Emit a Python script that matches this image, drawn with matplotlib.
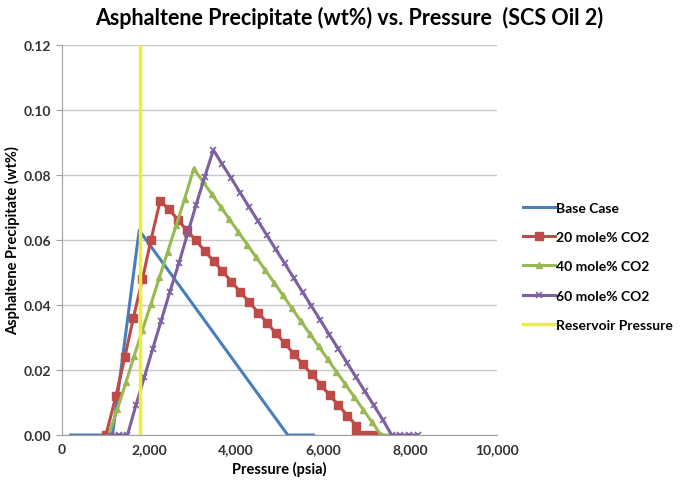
import matplotlib
matplotlib.use('Agg')
import matplotlib.pyplot as plt

plt.rcParams['font.family'] = ['Lato', 'DejaVu Sans']
plt.rcParams['font.weight'] = 'bold'

# Data (pressure in psia, precipitate in wt%)
base_p = [200, 1160, 1775, 5190, 5780]
base_wt = [0.0, 0.0, 0.063, 0.0, 0.0]

co2_20_p = [1010, 1240, 1445, 1640, 1850, 2045, 2255, 2460, 2665, 2870, 3075,
            3280, 3485, 3690, 3895, 4100, 4305, 4510, 4715, 4920, 5125, 5330,
            5535, 5740, 5945, 6150, 6355, 6560, 6765, 6770, 6975, 7180]
co2_20_wt = [0.0, 0.012, 0.024, 0.036, 0.048, 0.060, 0.072, 0.0695, 0.0662,
             0.0630, 0.0599, 0.0567, 0.0535, 0.0504, 0.0472, 0.0440, 0.0409,
             0.0377, 0.0345, 0.0313, 0.0282, 0.0250, 0.0218, 0.0187, 0.0155,
             0.0123, 0.0092, 0.0060, 0.0029, 0.0, 0.0, 0.0]

co2_40_p = [1070, 1275, 1470, 1660, 1850, 2045, 2240, 2430, 2625, 2820, 3030,
            3235, 3440, 3645, 3850, 4055, 4260, 4465, 4670, 4875, 5080, 5285,
            5490, 5695, 5900, 6105, 6310, 6515, 6720, 6925, 7130, 7335, 7540]
co2_40_wt = [0.0, 0.008, 0.0162, 0.0244, 0.0323, 0.0403, 0.0485, 0.0564,
             0.0645, 0.0727, 0.082, 0.0781, 0.0742, 0.0703, 0.0664, 0.0625,
             0.0586, 0.0547, 0.0508, 0.0469, 0.0430, 0.0390, 0.0351, 0.0312,
             0.0273, 0.0234, 0.0195, 0.0156, 0.0117, 0.0078, 0.0039, 0.0, 0.0]

co2_60_p = [1100, 1300, 1505, 1700, 1895, 2085, 2280, 2480, 2690, 2885, 3080,
            3280, 3480, 3685, 3890, 4095, 4300, 4505, 4710, 4915, 5120, 5325,
            5530, 5735, 5940, 6145, 6350, 6555, 6760, 6965, 7170, 7375, 7580,
            7780, 7980, 8180]
co2_60_wt = [0.0, 0.0, 0.0, 0.0092, 0.0179, 0.0265, 0.0352, 0.0441, 0.053,
             0.0619, 0.0707, 0.0794, 0.0877, 0.0833, 0.0790, 0.0746, 0.0702,
             0.0659, 0.0615, 0.0571, 0.0528, 0.0484, 0.0440, 0.0397, 0.0353,
             0.0309, 0.0266, 0.0222, 0.0178, 0.0134, 0.0091, 0.0047, 0.0,
             0.0, 0.0, 0.0]

reservoir_p = 1800
x_ticks = [0, 2000, 4000, 6000, 8000, 10000]
y_ticks = [0.00, 0.02, 0.04, 0.06, 0.08, 0.10, 0.12]

fig = plt.figure(figsize=(6.85, 4.85), dpi=100)
ax = fig.add_axes([0.0905, 0.101, 0.635, 0.804])

ax.plot(base_p, base_wt, color='#4a7ebb', lw=2.2, label='Base Case')
ax.plot(co2_20_p, co2_20_wt, color='#be4b48', lw=2.2, marker='s', ms=5.5,
        label='20 mole% CO2')
ax.plot(co2_40_p, co2_40_wt, color='#98b954', lw=2.2, marker='^', ms=5,
        label='40 mole% CO2')
ax.plot(co2_60_p, co2_60_wt, color='#7d60a0', lw=2.2, marker='x', ms=4.5,
        mew=1.2, label='60 mole% CO2')
ax.plot([reservoir_p, reservoir_p], [0, 0.12], color='#eeee3a', lw=2.5,
        label='Reservoir Pressure')

ax.set_xlim(0, 10000)
ax.set_ylim(0, 0.12)
ax.set_xticks(x_ticks)
ax.set_xticklabels([f'{v:,}' for v in x_ticks])
ax.set_yticks(y_ticks)
ax.set_yticklabels([f'{v:.2f}' for v in y_ticks])
ax.tick_params(axis='x', length=0, labelsize=10, colors='#333333', pad=6)
ax.tick_params(axis='y', length=4, labelsize=10, colors='#333333',
               direction='out', pad=4)
ax.tick_params(axis='y', color='#a0a0a0')

ax.grid(axis='y', color='#c8c8c8', lw=1)
ax.set_axisbelow(True)
for s in ['top', 'right']:
    ax.spines[s].set_visible(False)
for s in ['left', 'bottom']:
    ax.spines[s].set_color('#a0a0a0')

ax.set_xlabel('Pressure (psia)', fontsize=10.5, fontweight='bold', labelpad=4)
ax.set_ylabel('Asphaltene Precipitate (wt%)', fontsize=10.5,
              fontweight='bold', labelpad=2)

fig.text(0.51, 0.962, 'Asphaltene Precipitate (wt%) vs. Pressure  (SCS Oil 2)',
         ha='center', va='center', fontsize=15.5, fontweight='bold')

leg = fig.legend(loc='center left', bbox_to_anchor=(0.745, 0.449),
                 frameon=False, fontsize=10, handlelength=2.3,
                 handletextpad=0.1, labelspacing=1.25)

fig.savefig('out.png', dpi=100)
